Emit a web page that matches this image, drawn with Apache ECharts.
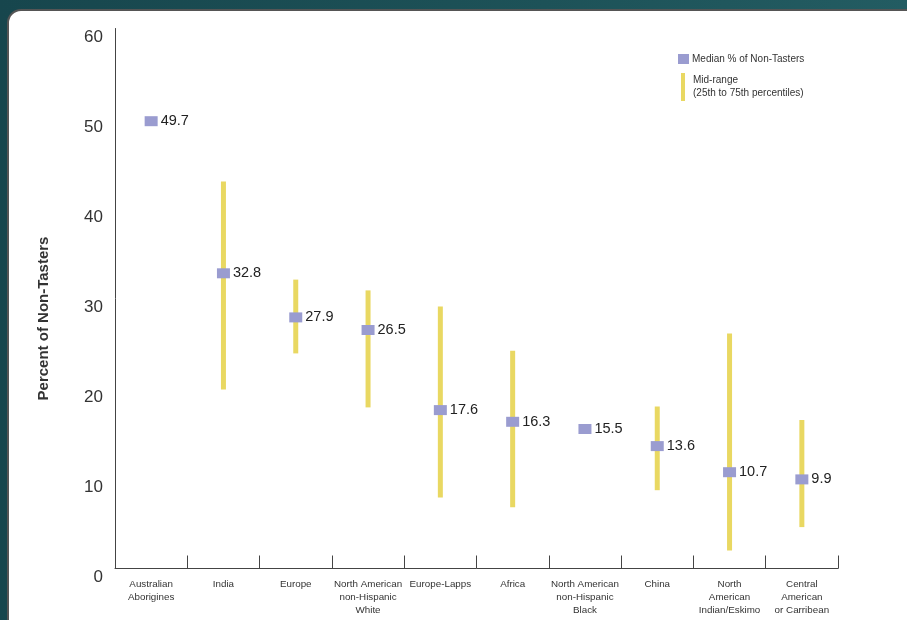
<!DOCTYPE html>
<html>
<head>
<meta charset="utf-8">
<script src="https://cdn.jsdelivr.net/npm/echarts@6/dist/echarts.min.js"></script>
<style>
  html, body { margin:0; padding:0; width:907px; height:620px; overflow:hidden;
    background: linear-gradient(90deg, #17464d 0%, #1d5258 60%, #235c62 100%); }
  #panel { position:absolute; left:7px; top:9px; width:940px; height:640px; background:#fff;
    border:2px solid #555; border-radius:14px 0 0 14px; box-sizing:border-box; }
  #chart { position:absolute; left:0; top:0; width:907px; height:620px; }
</style>
</head>
<body>
<div id="panel"></div>
<div id="chart"></div>
<script>
const categories = [
  "Australian\nAborigines", "India", "Europe", "North American\nnon-Hispanic\nWhite",
  "Europe-Lapps", "Africa", "North American\nnon-Hispanic\nBlack", "China",
  "North\nAmerican\nIndian/Eskimo", "Central\nAmerican\nor Carribean"
];
const medians = [49.7, 32.8, 27.9, 26.5, 17.6, 16.3, 15.5, 13.6, 10.7, 9.9];
const rangeLow  = [null, 19.9, 23.9, 17.9, 7.9, 6.8, null, 8.7, 2.0, 4.6];
const rangeHigh = [null, 43.0, 32.1, 30.9, 29.1, 24.2, null, 18.0, 26.1, 16.5];
const yTicks = [0, 10, 20, 30, 40, 50, 60];

const medianName = "Median % of Non-Tasters";
const rangeName = "Mid-range\n(25th to 75th percentiles)";
const purple = "#9a9cd0";
const yellow = "#e9d862";

const rangeData = categories.map((c, i) =>
  rangeLow[i] == null ? null : [i, rangeLow[i], rangeHigh[i]]).filter(d => d);

const chart = echarts.init(document.getElementById("chart"));
chart.setOption({
  animation: false,
  textStyle: { fontFamily: "Liberation Sans, Arial, sans-serif" },
  grid: { left: 115, right: 69, top: 28.5, bottom: 51.5, containLabel: false },
  legend: [
    {
      data: [{ name: medianName, icon: "rect" }],
      left: 673, top: 49, itemWidth: 11, itemHeight: 10, itemGap: 0,
      textStyle: { fontSize: 10, color: "#333", padding: [0, 0, 0, -2] },
      selectedMode: false
    },
    {
      data: [{ name: rangeName, icon: "rect" }],
      left: 676, top: 68, itemWidth: 4, itemHeight: 28,
      textStyle: { fontSize: 10, color: "#333", lineHeight: 13, padding: [0, 0, 0, 3] },
      selectedMode: false
    }
  ],
  xAxis: {
    type: "category",
    data: categories,
    boundaryGap: true,
    axisLine: { lineStyle: { color: "#444", width: 1 } },
    axisTick: { show: true, inside: true, length: 13, alignWithLabel: false, lineStyle: { color: "#444" } },
    axisLabel: { interval: 0, fontSize: 9.8, color: "#333", lineHeight: 13, margin: 9 },
    splitLine: { show: false }
  },
  yAxis: {
    type: "value",
    min: yTicks[0], max: yTicks[yTicks.length - 1], interval: 10,
    name: "Percent of Non-Tasters",
    nameLocation: "middle",
    nameGap: 64,
    nameTextStyle: { fontSize: 15, fontWeight: 600, color: "#333", padding: [0, 40, 0, 0] },
    axisLine: { show: true, lineStyle: { color: "#444", width: 1 } },
    axisTick: { show: false },
    splitLine: { show: false },
    axisLabel: { fontSize: 17, color: "#333", margin: 12, verticalAlign: "top", lineHeight: 17 }
  },
  series: [
    {
      name: rangeName,
      type: "custom",
      itemStyle: { color: yellow },
      renderItem: function (params, api) {
        const x = api.coord([api.value(0), 0])[0];
        const lo = api.coord([api.value(0), api.value(1)])[1];
        const hi = api.coord([api.value(0), api.value(2)])[1];
        return {
          type: "rect",
          shape: { x: x - 2.5, y: hi, width: 5, height: lo - hi },
          style: { fill: yellow }
        };
      },
      encode: { x: 0, y: [1, 2] },
      data: rangeData,
      z: 2
    },
    {
      name: medianName,
      type: "scatter",
      symbol: "rect",
      symbolSize: [13, 10],
      itemStyle: { color: purple, opacity: 1 },
      data: medians,
      label: {
        show: true, position: "right", distance: 3,
        fontSize: 14.5, color: "#222",
        formatter: p => p.value.toFixed(1)
      },
      z: 3
    }
  ]
});
</script>
</body>
</html>
